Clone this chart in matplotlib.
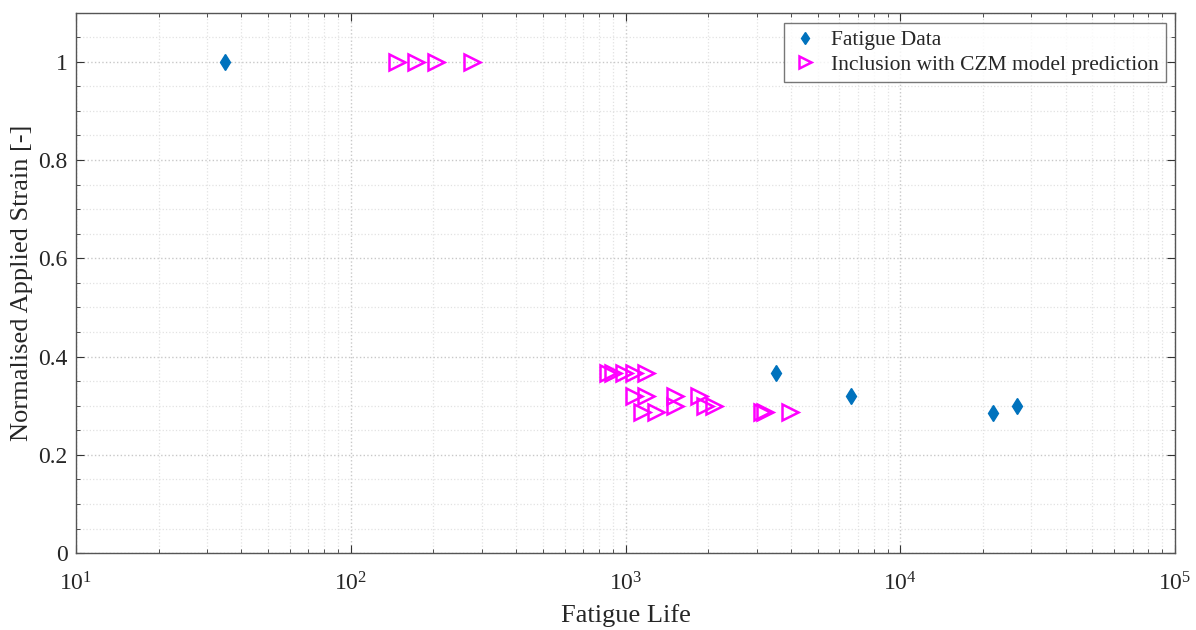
import numpy as np
import matplotlib.pyplot as plt
from matplotlib.ticker import LogLocator, MultipleLocator, FixedLocator

plt.rcParams['font.family'] = ['Liberation Serif', 'DejaVu Serif']
plt.rcParams['mathtext.fontset'] = 'custom'
plt.rcParams['mathtext.rm'] = 'Liberation Serif'

# experimental fatigue results
fatigue_life = [35, 3530, 6610, 21800, 26700]
fatigue_strain = [1.0, 0.367, 0.320, 0.285, 0.299]

# inclusion + cohesive zone model predictions
czm_life = [147, 173, 204, 277,
            861, 904, 991, 1078, 1183,
            1078, 1183, 1517, 1857,
            1517, 1950, 2103,
            1153, 1286, 3141, 3222, 3970]
czm_strain = [1.0, 1.0, 1.0, 1.0,
              0.367, 0.367, 0.367, 0.367, 0.367,
              0.320, 0.320, 0.320, 0.320,
              0.300, 0.300, 0.300,
              0.287, 0.287, 0.287, 0.287, 0.287]

fig = plt.figure(figsize=(11.96, 6.3), dpi=100)
ax = fig.add_axes([0.0635, 0.122, 0.919, 0.858])

ax.plot(fatigue_life, fatigue_strain, linestyle='None', marker='d',
        color='#0072BD', markersize=8, label='Fatigue Data')
ax.plot(czm_life, czm_strain, linestyle='None', marker='>',
        markerfacecolor='none', markeredgecolor='#FF00FF', markeredgewidth=1.8,
        markersize=11, label='Inclusion with CZM model prediction')

ax.set_xscale('log')
ax.set_xlim(10, 1e5)
ax.set_ylim(0, 1.1)
ax.set_yticks([0, 0.2, 0.4, 0.6, 0.8, 1.0])
ax.set_yticklabels(['0', '0.2', '0.4', '0.6', '0.8', '1'])
ax.yaxis.set_minor_locator(MultipleLocator(0.05))
ax.xaxis.set_major_locator(FixedLocator([1e1, 1e2, 1e3, 1e4, 1e5]))
ax.xaxis.set_minor_locator(LogLocator(base=10, subs=np.arange(2, 10)))

ax.grid(which='major', linestyle=':', color='#c8c8c8', linewidth=1.0)
ax.grid(which='minor', linestyle=':', color='#e2e2e2', linewidth=0.9)
ax.set_axisbelow(True)

ax.tick_params(which='both', direction='in', top=True, right=True,
               color='#333333', labelsize=17, labelcolor='#262626')
ax.tick_params(which='major', length=6)
ax.tick_params(which='minor', length=3)
ax.tick_params(axis='x', pad=14)
ax.tick_params(axis='y', pad=6)
for s in ax.spines.values():
    s.set_color('#555555')
    s.set_linewidth(1.0)

ax.set_xlabel('Fatigue Life', fontsize=19, labelpad=6, color='#262626')
ax.set_ylabel('Normalised Applied Strain [-]', fontsize=19, labelpad=4,
              color='#262626')

leg = ax.legend(loc='upper right', fontsize=15.5, frameon=True, fancybox=False,
                edgecolor='#555555', borderpad=0.35, handletextpad=0.6,
                labelspacing=0.2, handlelength=1.2, borderaxespad=0,
                markerscale=0.8, bbox_to_anchor=(0.9918, 0.981))
leg.get_frame().set_linewidth(1.0)
for t in leg.get_texts():
    t.set_color('#262626')

fig.savefig('out.png', dpi=100)
